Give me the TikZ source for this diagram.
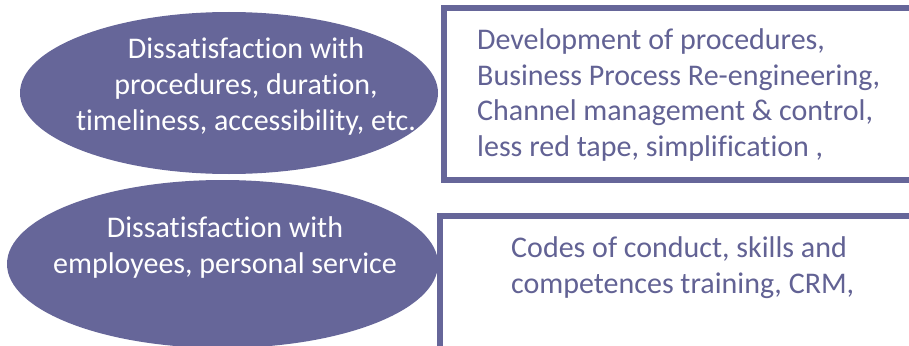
\documentclass[tikz,border=0pt]{standalone}
\usepackage{fontspec}
\setmainfont{Carlito}[Ligatures=NoCommon]
\usetikzlibrary{shapes.geometric}
\definecolor{pp}{HTML}{666699}
\definecolor{pt}{HTML}{626294}
\tikzset{
  oval/.style={ellipse, fill=pp, draw=none, inner sep=0pt},
  frame/.style={draw=pp, line width=6pt, fill=white},
  wline/.style={anchor=base, inner sep=0pt, text=white, font=\fontsize{30}{36}\selectfont},
  bline/.style={anchor=base west, inner sep=0pt, text=pt, font=\fontsize{30}{36}\selectfont},
}
\begin{document}
\begin{tikzpicture}[x=1pt,y=-1pt]
\useasboundingbox (0,0) rectangle (909,345);
\fill[white] (0,0) rectangle (909,345);
\begin{scope}
\clip (0,0) rectangle (909,345);
\node[oval, minimum width=418pt, minimum height=162pt] (e1) at (229,93) {};
\node[oval, minimum width=431pt, minimum height=168pt] (e2) at (222.5,264) {};
\draw[frame] (444,8) rectangle (930,180);
\draw[frame] (440,216) rectangle (930,370);
\end{scope}
\node[wline] (e1a) at (246,59) {Dissatisfaction with};
\node[wline] (e1b) at (246,94.5) {procedures, duration,};
\node[wline] (e1c) at (246,130) {timeliness, accessibility, etc.};
\node[wline] (e2a) at (225,237) {Dissatisfaction with};
\node[wline] (e2b) at (225,273) {employees, personal service};
\node[bline] (b1a) at (477,49) {Development of procedures,};
\node[bline] (b1b) at (477,85) {Business Process Re-engineering,};
\node[bline] (b1c) at (477,120.5) {Channel management \& control,};
\node[bline] (b1d) at (477,156) {less red tape, simplification ,};
\node[bline] (b2a) at (511,257) {Codes of conduct, skills and};
\node[bline] (b2b) at (511,293) {competences training, CRM,};
\end{tikzpicture}
\end{document}
